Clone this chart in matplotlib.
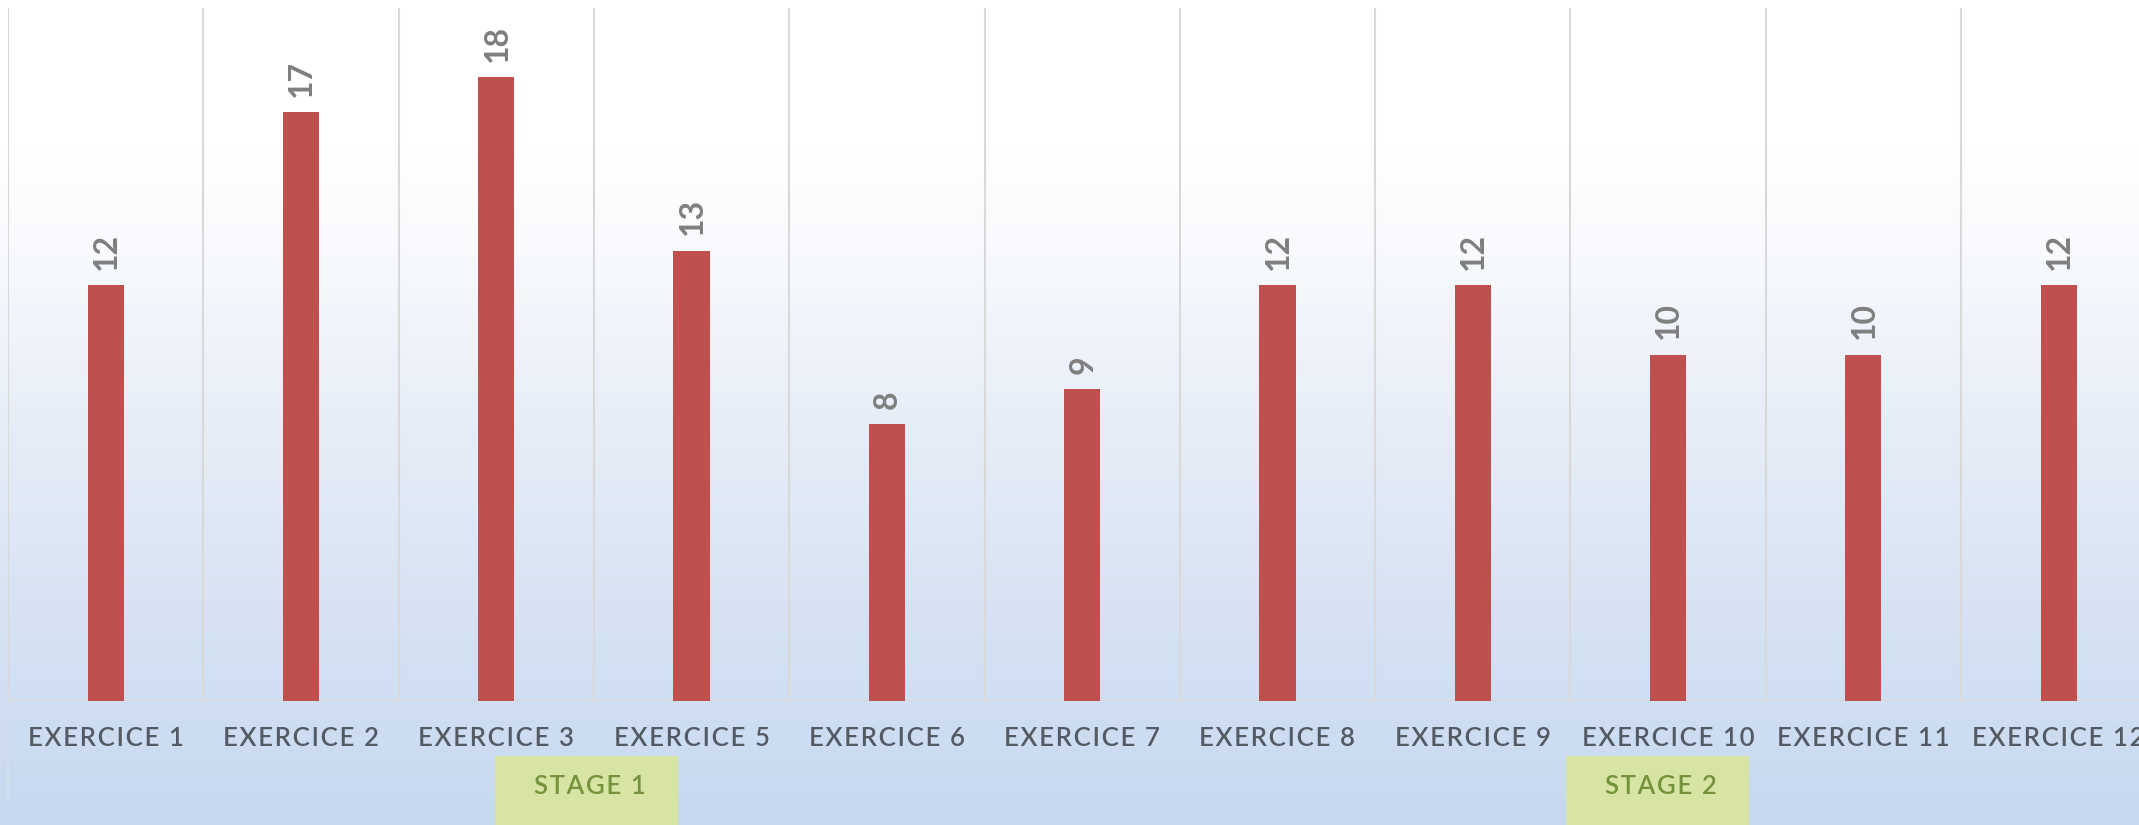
import numpy as np
import matplotlib.pyplot as plt
from matplotlib.colors import LinearSegmentedColormap
from matplotlib.patches import Rectangle

categories = ['EXERCICE 1', 'EXERCICE 2', 'EXERCICE 3', 'EXERCICE 5', 'EXERCICE 6',
              'EXERCICE 7', 'EXERCICE 8', 'EXERCICE 9', 'EXERCICE 10', 'EXERCICE 11',
              'EXERCICE 12']
values = [12, 17, 18, 13, 8, 9, 12, 12, 10, 10, 12]
stages = ['STAGE 1', 'STAGE 2']

W, H = 2139, 825
fig = plt.figure(figsize=(W / 100, H / 100), dpi=100)


def spaced(s):
    # excel-style letter spacing, faked with hair spaces
    return '\u200a'.join(s)


# background gradient (white at top to light blue at bottom)
bg = fig.add_axes([0, 0, 1, 1], zorder=0)
grad = LinearSegmentedColormap.from_list(
    'bg', [(0.0, '#C6D9F0'), (0.25, '#D6E2F3'), (0.50, '#E8EEF8'),
           (0.70, '#F8FAFD'), (0.82, '#FFFFFF'), (1.0, '#FFFFFF')])
bg.imshow(np.linspace(0, 1, 256).reshape(-1, 1), aspect='auto', cmap=grad,
          extent=[0, 1, 0, 1], origin='lower')
bg.axis('off')

# plot area in pixels: left 8, top 8, baseline 701, category width ~195.3
cw = 195.3
left, top, base = 8, 8, 701
ax = fig.add_axes([left / W, (H - base) / H, len(categories) * cw / W, (base - top) / H], zorder=1)
ax.patch.set_alpha(0)

x = np.arange(len(categories))
ax.bar(x, values, width=0.185, color='#C0504D', zorder=3)
ax.set_xlim(-0.5, len(categories) - 0.5)
ax.set_ylim(0, 20)

for xi, v in zip(x, values):
    ax.annotate(str(v), (xi, v), xytext=(0.5, 11), textcoords='offset points',
                rotation=90, ha='center', va='bottom', fontsize=23,
                fontweight='bold', color='#7F7F7F', family='Lato')

for b in np.arange(-0.5, len(categories), 1.0):
    ax.axvline(b, color='#D9D9D9', lw=1.5, zorder=1)
ax.axhline(0, color='#D9D9D9', lw=1.5, zorder=2)

for s in ax.spines.values():
    s.set_visible(False)
ax.set_yticks([])
ax.set_xticks(x)
ax.set_xticklabels([spaced(c) for c in categories], fontsize=18.5, color='#535A63',
                   family=['Lato', 'DejaVu Sans'], fontweight='semibold')
ax.tick_params(axis='x', length=0, pad=18)

# left edge line running down through the label area
fig.add_artist(plt.Line2D([left / W, left / W], [(H - 802) / H, (H - base) / H],
                          color='#D4DDEA', lw=1.5, zorder=2))

# stage boxes
stage_boxes = [(495, 678), (1566, 1749)]
for name, (x0, x1) in zip(stages, stage_boxes):
    fig.patches.append(Rectangle((x0 / W, 0), (x1 - x0) / W, (H - 756) / H,
                                 transform=fig.transFigure, facecolor='#D7E4A3',
                                 edgecolor='none', zorder=3))
    fig.text((x0 + x1) / 2 / W + 3 / W, (H - 787) / H, spaced(name), ha='center', va='center',
             fontsize=18.5, color='#76923C', family=['Lato', 'DejaVu Sans'],
             fontweight='semibold', zorder=4)

fig.savefig('out.png', dpi=100)
